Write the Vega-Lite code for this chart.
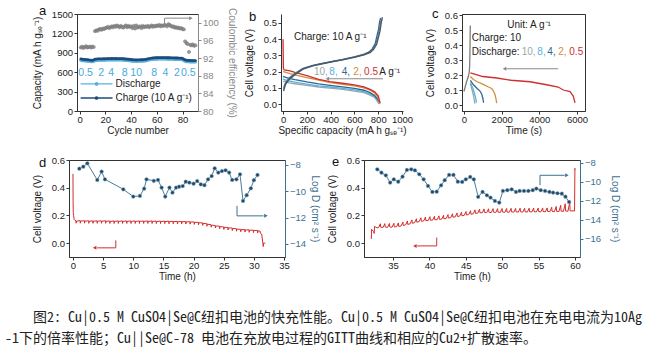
{
"$schema":"https://vega.github.io/schema/vega-lite/v6.json",
"background":"white",
"padding":{"left":5,"top":4,"right":0,"bottom":0},
"config":{"font":"Liberation Sans","view":{"stroke":null},
 "axis":{"labelFont":"Liberation Sans","titleFont":"Liberation Sans","labelFontSize":9.5,"titleFontSize":10,"titleFontWeight":"normal","labelColor":"#222","titleColor":"#222","domainColor":"#333","tickColor":"#333","grid":false,"tickSize":3,"labelFlush":false,"labelOverlap":false,"labelBound":false},
 "axisX":{"labelPadding":0.5,"titlePadding":1.5},
 "axisY":{"labelPadding":1.5,"titlePadding":9},
 "text":{"font":"Liberation Sans","fontSize":10},
 "title":{"font":"Liberation Sans","fontSize":13,"fontWeight":"normal","color":"#111","anchor":"start","frame":"group","offset":0,"baseline":"middle"}},
"datasets":{
"a":[{"n":1,"c":805,"d":783,"e":94.4},{"n":2,"c":800,"d":778,"e":94.6},{"n":3,"c":798,"d":776,"e":94.3},{"n":4,"c":796,"d":774,"e":94.5},{"n":5,"c":795,"d":773,"e":94.7},{"n":6,"c":793,"d":771,"e":94.4},{"n":7,"c":790,"d":768,"e":94.5},{"n":8,"c":788,"d":766,"e":94.6},{"n":9,"c":785,"d":763,"e":94.4},{"n":10,"c":782,"d":760,"e":94.6},
{"n":11,"c":790,"d":768,"e":94.5},{"n":12,"c":800,"d":778,"e":98.1},{"n":13,"c":802,"d":780,"e":98.3},{"n":14,"c":805,"d":783,"e":98.2},{"n":15,"c":806,"d":784,"e":98.5},{"n":16,"c":805,"d":783,"e":98.6},{"n":17,"c":807,"d":785,"e":98.4},{"n":18,"c":806,"d":784,"e":98.7},{"n":19,"c":808,"d":786,"e":98.6},{"n":20,"c":807,"d":785,"e":98.8},
{"n":21,"c":810,"d":788,"e":98.9},{"n":22,"c":809,"d":787,"e":99.1},{"n":23,"c":811,"d":789,"e":98.8},{"n":24,"c":810,"d":788,"e":99.0},{"n":25,"c":812,"d":790,"e":99.2},{"n":26,"c":811,"d":789,"e":99.0},{"n":27,"c":810,"d":788,"e":99.3},{"n":28,"c":812,"d":790,"e":99.1},{"n":29,"c":811,"d":789,"e":99.4},{"n":30,"c":810,"d":788,"e":99.2},
{"n":31,"c":809,"d":787,"e":99.0},{"n":32,"c":811,"d":789,"e":99.3},{"n":33,"c":810,"d":788,"e":99.1},{"n":34,"c":808,"d":786,"e":98.9},{"n":35,"c":806,"d":784,"e":99.2},{"n":36,"c":804,"d":782,"e":99.4},{"n":37,"c":802,"d":780,"e":99.0},{"n":38,"c":800,"d":778,"e":99.3},{"n":39,"c":798,"d":776,"e":99.1},{"n":40,"c":796,"d":774,"e":99.2},
{"n":41,"c":793,"d":771,"e":98.8},{"n":42,"c":791,"d":769,"e":99.3},{"n":43,"c":790,"d":768,"e":98.7},{"n":44,"c":789,"d":767,"e":99.4},{"n":45,"c":790,"d":768,"e":98.9},{"n":46,"c":791,"d":769,"e":99.1},{"n":47,"c":790,"d":768,"e":99.2},{"n":48,"c":792,"d":770,"e":98.8},{"n":49,"c":793,"d":771,"e":99.3},{"n":50,"c":795,"d":773,"e":99.0},
{"n":51,"c":797,"d":775,"e":99.2},{"n":52,"c":800,"d":778,"e":99.1},{"n":53,"c":805,"d":783,"e":99.3},{"n":54,"c":810,"d":788,"e":99.0},{"n":55,"c":815,"d":793,"e":99.2},{"n":56,"c":818,"d":796,"e":99.4},{"n":57,"c":820,"d":798,"e":99.1},{"n":58,"c":822,"d":800,"e":99.3},{"n":59,"c":823,"d":801,"e":99.2},{"n":60,"c":824,"d":802,"e":99.4},
{"n":61,"c":825,"d":803,"e":99.3},{"n":62,"c":825,"d":803,"e":99.5},{"n":63,"c":826,"d":804,"e":99.2},{"n":64,"c":826,"d":804,"e":99.4},{"n":65,"c":825,"d":803,"e":99.3},{"n":66,"c":826,"d":804,"e":99.5},{"n":67,"c":825,"d":803,"e":99.4},{"n":68,"c":824,"d":802,"e":99.2},{"n":69,"c":824,"d":802,"e":99.7},{"n":70,"c":823,"d":801,"e":99.5},
{"n":71,"c":822,"d":800,"e":99.3},{"n":72,"c":822,"d":800,"e":99.1},{"n":73,"c":821,"d":799,"e":99.2},{"n":74,"c":820,"d":798,"e":98.9},{"n":75,"c":820,"d":798,"e":99.0},{"n":76,"c":819,"d":797,"e":98.8},{"n":77,"c":818,"d":796,"e":98.9},{"n":78,"c":817,"d":795,"e":98.7},{"n":79,"c":816,"d":794,"e":98.8},{"n":80,"c":815,"d":793,"e":98.6},
{"n":81,"c":800,"d":778,"e":98.5},{"n":82,"c":790,"d":768,"e":95.8},{"n":83,"c":785,"d":763,"e":95.4},{"n":84,"c":783,"d":761,"e":95.2},{"n":85,"c":782,"d":760,"e":93.4},{"n":86,"c":781,"d":759,"e":95.0},{"n":87,"c":780,"d":758,"e":94.9},{"n":88,"c":780,"d":758,"e":95.1},{"n":89,"c":779,"d":757,"e":94.8},{"n":90,"c":779,"d":757,"e":94.9}],
"b":[
{"s":"10","q":0,"v":0.14},{"s":"10","q":10,"v":0.14},{"s":"10","q":50,"v":0.13},{"s":"10","q":100,"v":0.125},{"s":"10","q":200,"v":0.115},{"s":"10","q":300,"v":0.105},{"s":"10","q":395,"v":0.098},{"s":"10","q":500,"v":0.09},{"s":"10","q":600,"v":0.08},{"s":"10","q":680,"v":0.07},{"s":"10","q":731,"v":0.055},{"s":"10","q":770,"v":0.04},{"s":"10","q":790,"v":0.02},{"s":"10","q":805,"v":0.0},
{"s":"8","q":0,"v":0.155},{"s":"8","q":10,"v":0.15},{"s":"8","q":50,"v":0.142},{"s":"8","q":100,"v":0.135},{"s":"8","q":200,"v":0.123},{"s":"8","q":300,"v":0.112},{"s":"8","q":395,"v":0.105},{"s":"8","q":500,"v":0.097},{"s":"8","q":600,"v":0.087},{"s":"8","q":680,"v":0.077},{"s":"8","q":731,"v":0.062},{"s":"8","q":770,"v":0.045},{"s":"8","q":795,"v":0.025},{"s":"8","q":810,"v":0.005},
{"s":"4","q":0,"v":0.17},{"s":"4","q":10,"v":0.168},{"s":"4","q":50,"v":0.158},{"s":"4","q":100,"v":0.15},{"s":"4","q":200,"v":0.136},{"s":"4","q":300,"v":0.124},{"s":"4","q":395,"v":0.115},{"s":"4","q":500,"v":0.106},{"s":"4","q":600,"v":0.096},{"s":"4","q":680,"v":0.085},{"s":"4","q":731,"v":0.07},{"s":"4","q":770,"v":0.052},{"s":"4","q":795,"v":0.03},{"s":"4","q":815,"v":0.008},
{"s":"2","q":0,"v":0.2},{"s":"2","q":10,"v":0.198},{"s":"2","q":59,"v":0.188},{"s":"2","q":100,"v":0.18},{"s":"2","q":200,"v":0.163},{"s":"2","q":300,"v":0.148},{"s":"2","q":395,"v":0.132},{"s":"2","q":500,"v":0.122},{"s":"2","q":600,"v":0.112},{"s":"2","q":680,"v":0.1},{"s":"2","q":731,"v":0.085},{"s":"2","q":770,"v":0.068},{"s":"2","q":795,"v":0.045},{"s":"2","q":810,"v":0.015},{"s":"2","q":815,"v":0.0},
{"s":"0.5","q":0,"v":0.4},{"s":"0.5","q":3,"v":0.22},{"s":"0.5","q":10,"v":0.21},{"s":"0.5","q":59,"v":0.204},{"s":"0.5","q":100,"v":0.195},{"s":"0.5","q":200,"v":0.175},{"s":"0.5","q":300,"v":0.152},{"s":"0.5","q":395,"v":0.138},{"s":"0.5","q":500,"v":0.128},{"s":"0.5","q":600,"v":0.118},{"s":"0.5","q":680,"v":0.106},{"s":"0.5","q":731,"v":0.09},{"s":"0.5","q":770,"v":0.075},{"s":"0.5","q":800,"v":0.05},{"s":"0.5","q":815,"v":0.008},
{"s":"c3","q":5,"v":0.1},{"s":"c3","q":20,"v":0.13},{"s":"c3","q":50,"v":0.16},{"s":"c3","q":100,"v":0.19},{"s":"c3","q":168,"v":0.22},{"s":"c3","q":250,"v":0.238},{"s":"c3","q":311,"v":0.248},{"s":"c3","q":400,"v":0.261},{"s":"c3","q":500,"v":0.275},{"s":"c3","q":600,"v":0.291},{"s":"c3","q":680,"v":0.307},{"s":"c3","q":725,"v":0.32},{"s":"c3","q":755,"v":0.34},{"s":"c3","q":780,"v":0.37},{"s":"c3","q":798,"v":0.42},{"s":"c3","q":810,"v":0.46},{"s":"c3","q":820,"v":0.5},{"s":"c3","q":828,"v":0.525},
{"s":"c2","q":5,"v":0.09},{"s":"c2","q":20,"v":0.125},{"s":"c2","q":50,"v":0.155},{"s":"c2","q":100,"v":0.185},{"s":"c2","q":168,"v":0.218},{"s":"c2","q":250,"v":0.237},{"s":"c2","q":311,"v":0.247},{"s":"c2","q":400,"v":0.26},{"s":"c2","q":500,"v":0.274},{"s":"c2","q":600,"v":0.29},{"s":"c2","q":680,"v":0.305},{"s":"c2","q":720,"v":0.32},{"s":"c2","q":750,"v":0.34},{"s":"c2","q":775,"v":0.375},{"s":"c2","q":792,"v":0.43},{"s":"c2","q":802,"v":0.46},{"s":"c2","q":812,"v":0.51},{"s":"c2","q":820,"v":0.53},
{"s":"c1","q":5,"v":0.08},{"s":"c1","q":20,"v":0.12},{"s":"c1","q":50,"v":0.15},{"s":"c1","q":100,"v":0.18},{"s":"c1","q":168,"v":0.215},{"s":"c1","q":250,"v":0.235},{"s":"c1","q":311,"v":0.245},{"s":"c1","q":400,"v":0.258},{"s":"c1","q":500,"v":0.272},{"s":"c1","q":600,"v":0.288},{"s":"c1","q":680,"v":0.303},{"s":"c1","q":731,"v":0.317},{"s":"c1","q":760,"v":0.335},{"s":"c1","q":787,"v":0.368},{"s":"c1","q":805,"v":0.42},{"s":"c1","q":815,"v":0.45},{"s":"c1","q":825,"v":0.5},{"s":"c1","q":835,"v":0.535}],
"c":[
{"s":"ch","t":0,"v":0.09},{"s":"ch","t":60,"v":0.12},{"s":"ch","t":150,"v":0.16},{"s":"ch","t":230,"v":0.19},{"s":"ch","t":280,"v":0.22},{"s":"ch","t":300,"v":0.26},{"s":"ch","t":315,"v":0.35},{"s":"ch","t":325,"v":0.45},{"s":"ch","t":335,"v":0.53},
{"s":"10","t":340,"v":0.14},{"s":"10","t":400,"v":0.115},{"s":"10","t":450,"v":0.09},{"s":"10","t":500,"v":0.065},{"s":"10","t":540,"v":0.035},{"s":"10","t":580,"v":0.01},
{"s":"8","t":340,"v":0.15},{"s":"8","t":420,"v":0.125},{"s":"8","t":500,"v":0.1},{"s":"8","t":560,"v":0.075},{"s":"8","t":620,"v":0.045},{"s":"8","t":660,"v":0.015},
{"s":"4","t":340,"v":0.165},{"s":"4","t":500,"v":0.135},{"s":"4","t":700,"v":0.11},{"s":"4","t":850,"v":0.093},{"s":"4","t":950,"v":0.07},{"s":"4","t":1000,"v":0.045},{"s":"4","t":1040,"v":0.015},
{"s":"2","t":340,"v":0.19},{"s":"2","t":500,"v":0.17},{"s":"2","t":700,"v":0.155},{"s":"2","t":1025,"v":0.138},{"s":"2","t":1300,"v":0.12},{"s":"2","t":1470,"v":0.11},{"s":"2","t":1560,"v":0.095},{"s":"2","t":1646,"v":0.07},{"s":"2","t":1700,"v":0.04},{"s":"2","t":1735,"v":0.012},
{"s":"0.5","t":340,"v":0.215},{"s":"0.5","t":1000,"v":0.19},{"s":"0.5","t":1735,"v":0.18},{"s":"0.5","t":2500,"v":0.165},{"s":"0.5","t":3505,"v":0.155},{"s":"0.5","t":4390,"v":0.135},{"s":"0.5","t":5000,"v":0.12},{"s":"0.5","t":5275,"v":0.1},{"s":"0.5","t":5630,"v":0.09},{"s":"0.5","t":5800,"v":0.06},{"s":"0.5","t":5895,"v":0.015}],
"dv":[{"t":0,"v":0.5},{"t":0.02,"v":0.3},{"t":0.05,"v":0.22},{"t":0.1,"v":0.2},{"t":0.2,"v":0.17},{"t":0.35,"v":0.163},
{"t":0.5,"v":0.162},{"t":0.52,"v":0.144},{"t":0.57,"v":0.159},{"t":1.2,"v":0.162},{"t":1.22,"v":0.144},{"t":1.27,"v":0.159},{"t":1.9,"v":0.162},{"t":1.92,"v":0.144},{"t":1.97,"v":0.159},
{"t":2.6,"v":0.161},{"t":2.62,"v":0.143},{"t":2.67,"v":0.158},{"t":3.3,"v":0.161},{"t":3.32,"v":0.143},{"t":3.37,"v":0.158},{"t":4.0,"v":0.161},{"t":4.02,"v":0.143},{"t":4.07,"v":0.158},
{"t":4.7,"v":0.161},{"t":4.72,"v":0.143},{"t":4.77,"v":0.158},{"t":5.4,"v":0.161},{"t":5.42,"v":0.143},{"t":5.47,"v":0.158},{"t":6.1,"v":0.16},{"t":6.12,"v":0.142},{"t":6.17,"v":0.157},
{"t":6.8,"v":0.16},{"t":6.82,"v":0.142},{"t":6.87,"v":0.157},{"t":7.5,"v":0.16},{"t":7.52,"v":0.142},{"t":7.57,"v":0.157},{"t":8.2,"v":0.16},{"t":8.22,"v":0.142},{"t":8.27,"v":0.157},
{"t":8.9,"v":0.16},{"t":8.92,"v":0.142},{"t":8.97,"v":0.157},{"t":9.6,"v":0.16},{"t":9.62,"v":0.142},{"t":9.67,"v":0.157},{"t":10.3,"v":0.16},{"t":10.32,"v":0.142},{"t":10.37,"v":0.157},
{"t":11.0,"v":0.16},{"t":11.02,"v":0.142},{"t":11.07,"v":0.157},{"t":11.7,"v":0.16},{"t":11.72,"v":0.142},{"t":11.77,"v":0.157},{"t":12.4,"v":0.16},{"t":12.42,"v":0.142},{"t":12.47,"v":0.157},
{"t":13.1,"v":0.16},{"t":13.12,"v":0.142},{"t":13.17,"v":0.157},{"t":13.8,"v":0.159},{"t":13.82,"v":0.141},{"t":13.87,"v":0.156},{"t":14.5,"v":0.159},{"t":14.52,"v":0.141},{"t":14.57,"v":0.156},
{"t":15.2,"v":0.159},{"t":15.22,"v":0.141},{"t":15.27,"v":0.156},{"t":15.9,"v":0.158},{"t":15.92,"v":0.14},{"t":15.97,"v":0.155},{"t":16.6,"v":0.158},{"t":16.62,"v":0.14},{"t":16.67,"v":0.155},
{"t":17.3,"v":0.157},{"t":17.32,"v":0.139},{"t":17.37,"v":0.154},{"t":18.0,"v":0.157},{"t":18.02,"v":0.139},{"t":18.07,"v":0.154},{"t":18.7,"v":0.156},{"t":18.72,"v":0.138},{"t":18.77,"v":0.153},
{"t":19.4,"v":0.155},{"t":19.42,"v":0.137},{"t":19.47,"v":0.152},{"t":20.1,"v":0.153},{"t":20.12,"v":0.135},{"t":20.17,"v":0.15},{"t":20.8,"v":0.15},{"t":20.82,"v":0.132},{"t":20.87,"v":0.147},
{"t":21.5,"v":0.146},{"t":21.52,"v":0.128},{"t":21.57,"v":0.143},{"t":22.2,"v":0.14},{"t":22.22,"v":0.122},{"t":22.27,"v":0.137},{"t":22.9,"v":0.133},{"t":22.92,"v":0.115},{"t":22.97,"v":0.13},
{"t":23.6,"v":0.127},{"t":23.62,"v":0.109},{"t":23.67,"v":0.124},{"t":24.3,"v":0.122},{"t":24.32,"v":0.104},{"t":24.37,"v":0.119},{"t":25.0,"v":0.117},{"t":25.02,"v":0.099},{"t":25.07,"v":0.114},
{"t":25.7,"v":0.113},{"t":25.72,"v":0.095},{"t":25.77,"v":0.11},{"t":26.4,"v":0.109},{"t":26.42,"v":0.091},{"t":26.47,"v":0.106},{"t":27.1,"v":0.104},{"t":27.12,"v":0.086},{"t":27.17,"v":0.101},
{"t":27.8,"v":0.1},{"t":27.82,"v":0.082},{"t":27.87,"v":0.097},{"t":28.5,"v":0.098},{"t":28.52,"v":0.08},{"t":28.57,"v":0.095},{"t":29.2,"v":0.096},{"t":29.22,"v":0.078},{"t":29.27,"v":0.093},
{"t":29.9,"v":0.094},{"t":29.92,"v":0.076},{"t":29.97,"v":0.091},{"t":30.6,"v":0.091},{"t":30.62,"v":0.073},{"t":30.67,"v":0.088},
{"t":31.0,"v":0.088},{"t":31.1,"v":0.07},{"t":31.3,"v":0.065},{"t":31.4,"v":0.03},{"t":31.5,"v":-0.005},{"t":31.55,"v":-0.025},{"t":31.6,"v":0.0},{"t":31.9,"v":0.0}],
"dd":[{"t":1.05,"g":-8.28},{"t":1.71,"g":-8.13},{"t":2.38,"g":-7.87},{"t":4.03,"g":-9.14},{"t":4.75,"g":-8.5},{"t":5.3,"g":-9.09},{"t":8.34,"g":-9.85},{"t":10.0,"g":-10.4},{"t":11.1,"g":-10.35},{"t":11.8,"g":-9.8},{"t":12.2,"g":-9.09},{"t":13.4,"g":-9.2},{"t":14.1,"g":-9.14},{"t":14.7,"g":-9.72},{"t":15.3,"g":-10.4},{"t":16.0,"g":-9.72},{"t":16.5,"g":-10.1},{"t":17.1,"g":-9.72},{"t":17.6,"g":-9.65},{"t":18.2,"g":-9.6},{"t":18.7,"g":-9.27},{"t":19.3,"g":-9.34},{"t":20.0,"g":-9.42},{"t":20.6,"g":-9.22},{"t":21.2,"g":-9.47},{"t":21.8,"g":-9.54},{"t":22.4,"g":-9.09},{"t":23.0,"g":-8.84},{"t":23.5,"g":-8.25},{"t":24.1,"g":-8.58},{"t":24.7,"g":-8.46},{"t":25.3,"g":-8.4},{"t":25.9,"g":-8.58},{"t":26.4,"g":-9.14},{"t":27.1,"g":-9.09},{"t":27.7,"g":-8.71},{"t":28.2,"g":-10.73},{"t":28.8,"g":-10.3},{"t":29.5,"g":-9.77},{"t":30.0,"g":-9.16},{"t":30.6,"g":-8.76}],
"ev":[{"t":32.0,"v":0.03},{"t":32.05,"v":0.1},{"t":32.3,"v":0.085},{"t":32.4,"v":0.07},{"t":32.45,"v":0.12},{"t":32.8,"v":0.11},
{"t":33.0,"v":0.112},{"t":33.25,"v":0.14},{"t":33.3,"v":0.115},{"t":33.62,"v":0.113},{"t":33.87,"v":0.141},{"t":33.92,"v":0.116},{"t":34.24,"v":0.114},{"t":34.49,"v":0.142},{"t":34.54,"v":0.117},
{"t":34.86,"v":0.115},{"t":35.11,"v":0.143},{"t":35.16,"v":0.118},{"t":35.48,"v":0.118},{"t":35.73,"v":0.146},{"t":35.78,"v":0.121},{"t":36.1,"v":0.124},{"t":36.35,"v":0.152},{"t":36.4,"v":0.127},
{"t":36.72,"v":0.132},{"t":36.97,"v":0.16},{"t":37.02,"v":0.135},{"t":37.34,"v":0.14},{"t":37.59,"v":0.168},{"t":37.64,"v":0.143},{"t":37.96,"v":0.148},{"t":38.21,"v":0.176},{"t":38.26,"v":0.151},
{"t":38.58,"v":0.155},{"t":38.83,"v":0.183},{"t":38.88,"v":0.158},{"t":39.2,"v":0.16},{"t":39.45,"v":0.188},{"t":39.5,"v":0.163},{"t":39.82,"v":0.163},{"t":40.07,"v":0.191},{"t":40.12,"v":0.166},
{"t":40.44,"v":0.166},{"t":40.69,"v":0.194},{"t":40.74,"v":0.169},{"t":41.06,"v":0.169},{"t":41.31,"v":0.197},{"t":41.36,"v":0.172},{"t":41.68,"v":0.173},{"t":41.93,"v":0.201},{"t":41.98,"v":0.176},
{"t":42.3,"v":0.178},{"t":42.55,"v":0.206},{"t":42.6,"v":0.181},{"t":42.92,"v":0.184},{"t":43.17,"v":0.212},{"t":43.22,"v":0.187},{"t":43.54,"v":0.19},{"t":43.79,"v":0.218},{"t":43.84,"v":0.193},
{"t":44.16,"v":0.195},{"t":44.41,"v":0.223},{"t":44.46,"v":0.198},{"t":44.78,"v":0.2},{"t":45.03,"v":0.228},{"t":45.08,"v":0.203},{"t":45.4,"v":0.206},{"t":45.65,"v":0.234},{"t":45.7,"v":0.209},
{"t":46.02,"v":0.212},{"t":46.27,"v":0.24},{"t":46.32,"v":0.215},{"t":46.64,"v":0.217},{"t":46.89,"v":0.245},{"t":46.94,"v":0.22},{"t":47.26,"v":0.219},{"t":47.51,"v":0.247},{"t":47.56,"v":0.222},
{"t":47.88,"v":0.22},{"t":48.13,"v":0.248},{"t":48.18,"v":0.223},{"t":48.5,"v":0.221},{"t":48.75,"v":0.249},{"t":48.8,"v":0.224},{"t":49.12,"v":0.221},{"t":49.37,"v":0.249},{"t":49.42,"v":0.224},
{"t":49.74,"v":0.222},{"t":49.99,"v":0.25},{"t":50.04,"v":0.225},{"t":50.36,"v":0.222},{"t":50.61,"v":0.25},{"t":50.66,"v":0.225},{"t":50.98,"v":0.223},{"t":51.23,"v":0.251},{"t":51.28,"v":0.226},
{"t":51.6,"v":0.223},{"t":51.85,"v":0.251},{"t":51.9,"v":0.226},{"t":52.22,"v":0.224},{"t":52.47,"v":0.252},{"t":52.52,"v":0.227},{"t":52.84,"v":0.224},{"t":53.09,"v":0.252},{"t":53.14,"v":0.227},
{"t":53.46,"v":0.224},{"t":53.71,"v":0.252},{"t":53.76,"v":0.227},{"t":54.08,"v":0.225},{"t":54.33,"v":0.253},{"t":54.38,"v":0.228},{"t":54.7,"v":0.225},{"t":54.95,"v":0.253},{"t":55.0,"v":0.228},
{"t":55.32,"v":0.226},{"t":55.57,"v":0.254},{"t":55.62,"v":0.229},{"t":55.94,"v":0.226},{"t":56.19,"v":0.254},{"t":56.24,"v":0.229},{"t":56.56,"v":0.227},{"t":56.81,"v":0.259},{"t":56.86,"v":0.23},
{"t":57.18,"v":0.227},{"t":57.43,"v":0.265},{"t":57.48,"v":0.23},{"t":57.8,"v":0.228},{"t":58.05,"v":0.273},{"t":58.1,"v":0.231},{"t":58.42,"v":0.229},{"t":58.67,"v":0.284},{"t":58.72,"v":0.232},
{"t":59.04,"v":0.23},{"t":59.29,"v":0.295},{"t":59.34,"v":0.233},{"t":59.95,"v":0.232},{"t":60.0,"v":0.54},{"t":60.02,"v":0.53}],
"ed":[{"t":32.83,"g":-8.7},{"t":33.4,"g":-9.05},{"t":34.0,"g":-9.33},{"t":34.6,"g":-10.1},{"t":35.1,"g":-9.75},{"t":35.7,"g":-10.0},{"t":36.3,"g":-9.47},{"t":36.9,"g":-8.77},{"t":37.5,"g":-8.7},{"t":38.0,"g":-8.8},{"t":38.6,"g":-9.22},{"t":39.2,"g":-9.75},{"t":39.8,"g":-10.45},{"t":40.4,"g":-11.08},{"t":41.0,"g":-11.05},{"t":41.6,"g":-10.38},{"t":42.1,"g":-9.85},{"t":42.7,"g":-9.29},{"t":43.3,"g":-9.29},{"t":43.9,"g":-10.0},{"t":44.5,"g":-10.03},{"t":45.0,"g":-9.75},{"t":45.6,"g":-9.5},{"t":46.1,"g":-9.75},{"t":46.7,"g":-11.6},{"t":47.3,"g":-11.08},{"t":47.9,"g":-11.43},{"t":48.4,"g":-11.68},{"t":49.0,"g":-12.03},{"t":49.6,"g":-12.2},{"t":50.1,"g":-10.98},{"t":50.7,"g":-10.9},{"t":51.3,"g":-10.8},{"t":51.9,"g":-11.08},{"t":52.4,"g":-10.98},{"t":53.0,"g":-10.98},{"t":53.6,"g":-10.98},{"t":54.2,"g":-10.9},{"t":54.7,"g":-10.73},{"t":55.3,"g":-10.9},{"t":55.9,"g":-10.98},{"t":56.5,"g":-11.08},{"t":57.0,"g":-11.15},{"t":57.6,"g":-11.22},{"t":58.2,"g":-11.26},{"t":58.7,"g":-11.58},{"t":59.2,"g":-12.14}]
},
"spacing":146,
"bounds":"flush",
"resolve":{"scale":{"color":"independent"}},
"vconcat":[
 {"spacing":0,"bounds":"flush","resolve":{"scale":{"color":"independent"}},"hconcat":[
 {"width":72,"height":97,"data":{"values":[]},"mark":"point"},
 {"width":121,"height":97,"view":{"stroke":"#333","strokeWidth":1},
  "title":{"text":"a","dx":-38,"dy":14.7},
  "resolve":{"scale":{"y":"independent"}},
  "layer":[
   {"layer":[
    {"data":{"name":"a"},"mark":{"type":"line","color":"#56b1df","strokeWidth":1.4,"point":{"filled":true,"size":9,"color":"#56b1df"}},
     "encoding":{"x":{"field":"n","type":"quantitative","scale":{"domain":[-2,92],"nice":false,"zero":false},"axis":{"values":[0,20,40,60,80],"tickCount":20,"format":"d","title":"Cycle number"}},
      "y":{"field":"d","type":"quantitative","scale":{"domain":[0,1500],"nice":false},"axis":{"values":[0,300,600,900,1200,1500],"tickCount":20,"format":"d","title":"Capacity (mA h gₛₑ⁻¹)"}}}},
    {"data":{"name":"a"},"mark":{"type":"line","color":"#1d4c7c","strokeWidth":1.2,"point":{"filled":true,"size":8,"color":"#1d4c7c"}},
     "encoding":{"x":{"field":"n","type":"quantitative"},"y":{"field":"c","type":"quantitative"}}},
    {"data":{"values":[{"s":"dis","n":0.8,"y":418},{"s":"dis","n":25.6,"y":418},{"s":"chg","n":0.8,"y":201},{"s":"chg","n":25.6,"y":201}]},
     "mark":{"type":"line","strokeWidth":1.3},
     "encoding":{"x":{"field":"n","type":"quantitative"},"y":{"field":"y","type":"quantitative"},"color":{"field":"s","type":"nominal","scale":{"domain":["dis","chg"],"range":["#56b1df","#1d4c7c"]},"legend":null}}},
    {"data":{"values":[{"s":"dis","n":13.2,"y":418},{"s":"chg","n":13.2,"y":201}]},
     "mark":{"type":"point","filled":true,"size":14,"opacity":1},
     "encoding":{"x":{"field":"n","type":"quantitative"},"y":{"field":"y","type":"quantitative"},"color":{"field":"s","type":"nominal","legend":null}}},
    {"data":{"values":[{"n":27.9,"y":418,"t":"Discharge"},{"n":27.9,"y":201,"t":"Charge (10 A g⁻¹)"}]},
     "mark":{"type":"text","align":"left","baseline":"middle","fontSize":10,"color":"#222"},
     "encoding":{"x":{"field":"n","type":"quantitative"},"y":{"field":"y","type":"quantitative"},"text":{"field":"t"}}},
    {"data":{"values":[{"n":4.7,"y":588,"t":"0.5"},{"n":16.8,"y":588,"t":"2"},{"n":24.6,"y":588,"t":"4"},{"n":35,"y":588,"t":"8"},{"n":44,"y":588,"t":"10"},{"n":58,"y":588,"t":"8"},{"n":66.7,"y":588,"t":"4"},{"n":75.7,"y":588,"t":"2"},{"n":84.5,"y":588,"t":"0.5"}]},
     "mark":{"type":"text","align":"center","baseline":"middle","fontSize":10.5,"color":"#4aa9db"},
     "encoding":{"x":{"field":"n","type":"quantitative"},"y":{"field":"y","type":"quantitative"},"text":{"field":"t"}}}
   ]},
   {"layer":[
    {"data":{"name":"a"},"mark":{"type":"point","filled":true,"size":11,"color":"#8e8e8e","stroke":"#666","strokeWidth":0.4,"opacity":0.9},
     "encoding":{"x":{"field":"n","type":"quantitative"},"y":{"field":"e","type":"quantitative","scale":{"domain":[80,102],"nice":false,"zero":false},"axis":{"orient":"right","values":[80,84,88,92,96,100],"tickCount":20,"format":"d","title":"Coulombic efficiency (%)","domainColor":"#888","tickColor":"#888","labelColor":"#888","titleColor":"#888","titlePadding":8}}}},
    {"data":{"values":[{"i":1,"n":66,"e":99.25},{"i":2,"n":66,"e":101.06},{"i":3,"n":85.5,"e":101.06}]},
     "mark":{"type":"line","color":"#888","strokeWidth":1},
     "encoding":{"x":{"field":"n","type":"quantitative"},"y":{"field":"e","type":"quantitative"},"order":{"field":"i"}}},
    {"data":{"values":[{"n":86.5,"e":101.06}]},"mark":{"type":"point","shape":"triangle-right","filled":true,"size":16,"color":"#888","opacity":1},
     "encoding":{"x":{"field":"n","type":"quantitative"},"y":{"field":"e","type":"quantitative"}}}
   ]}
  ]},
 {"width":83,"height":97,"data":{"values":[]},"mark":"point"},
 {"width":122,"height":97,
  "title":{"text":"b","dx":-32,"dy":14},
  "layer":[
   {"data":{"name":"b"},"mark":{"type":"line","strokeWidth":1.3},
    "encoding":{"x":{"field":"q","type":"quantitative","scale":{"domain":[-17,1008],"nice":false,"zero":false},"axis":{"values":[0,200,400,600,800,1000],"tickCount":20,"format":"d","title":"Specific capacity (mA h gₛₑ⁻¹)"}},
     "y":{"field":"v","type":"quantitative","scale":{"domain":[-0.043,0.555],"nice":false,"zero":false},"axis":{"values":[0,0.1,0.2,0.3,0.4,0.5],"tickCount":20,"format":".1f","title":"Cell voltage (V)"}},
     "color":{"field":"s","type":"nominal","scale":{"domain":["10","8","4","2","0.5","c1","c2","c3","k"],"range":["#9aa6ac","#55b3df","#2f6794","#d0903b","#cf2f2e","#4a5866","#3b6a8f","#70828f","#222222"]},"legend":null}}},
   {"data":{"values":[{"q":840,"v":0.156},{"q":378,"v":0.156}]},"mark":{"type":"line","color":"#8a8a8a","strokeWidth":1.1},
    "encoding":{"x":{"field":"q","type":"quantitative"},"y":{"field":"v","type":"quantitative"}}},
   {"data":{"values":[{"q":372,"v":0.156}]},"mark":{"type":"point","shape":"triangle-left","filled":true,"size":16,"color":"#8a8a8a","opacity":1},
    "encoding":{"x":{"field":"q","type":"quantitative"},"y":{"field":"v","type":"quantitative"}}},
   {"data":{"values":[{"s":"k","q":92,"v":0.414,"t":"Charge: 10 A g⁻¹"},{"s":"10","q":260,"v":0.198,"t":"10,"},{"s":"8","q":389,"v":0.198,"t":"8,"},{"s":"4","q":493,"v":0.198,"t":"4,"},{"s":"2","q":591,"v":0.198,"t":"2,"},{"s":"0.5","q":681,"v":0.198,"t":"0.5"},{"s":"k","q":809,"v":0.198,"t":"A g⁻¹"}]},
    "mark":{"type":"text","align":"left","baseline":"middle","fontSize":10},
    "encoding":{"x":{"field":"q","type":"quantitative"},"y":{"field":"v","type":"quantitative"},"text":{"field":"t"},"color":{"field":"s","type":"nominal","legend":null}}}
  ]},
 {"width":59,"height":97,"data":{"values":[]},"mark":"point"},
 {"width":123,"height":97,"view":{"stroke":"#333","strokeWidth":1},
  "title":{"text":"c","dx":-30,"dy":15.4},
  "layer":[
   {"data":{"name":"c"},"mark":{"type":"line","strokeWidth":1.3},
    "encoding":{"x":{"field":"t","type":"quantitative","scale":{"domain":[-106,6425],"nice":false,"zero":false},"axis":{"values":[0,2000,4000,6000],"tickCount":20,"format":"d","title":"Time (s)"}},
     "y":{"field":"v","type":"quantitative","scale":{"domain":[-0.04,0.607],"nice":false,"zero":false},"axis":{"values":[0,0.1,0.2,0.3,0.4,0.5,0.6],"tickCount":20,"format":".1f","title":"Cell voltage (V)"}},
     "color":{"field":"s","type":"nominal","scale":{"domain":["10","8","4","2","0.5","ch","k"],"range":["#9aa6ac","#55b3df","#2f6794","#d0903b","#cf2f2e","#7d7d7d","#222222"]},"legend":null}}},
   {"data":{"values":[{"t":5000,"v":0.242},{"t":2230,"v":0.242}]},"mark":{"type":"line","color":"#8a8a8a","strokeWidth":1.1},
    "encoding":{"x":{"field":"t","type":"quantitative"},"y":{"field":"v","type":"quantitative"}}},
   {"data":{"values":[{"t":2150,"v":0.242}]},"mark":{"type":"point","shape":"triangle-left","filled":true,"size":16,"color":"#8a8a8a","opacity":1},
    "encoding":{"x":{"field":"t","type":"quantitative"},"y":{"field":"v","type":"quantitative"}}},
   {"data":{"values":[{"s":"k","t":2300,"v":0.533,"x":"Unit: A g⁻¹"},{"s":"k","t":409,"v":0.445,"x":"Charge: 10"},{"s":"k","t":409,"v":0.355,"x":"Discharge:"},{"s":"10","t":3064,"v":0.355,"x":"10,"},{"s":"8","t":3893,"v":0.355,"x":"8,"},{"s":"4","t":4424,"v":0.355,"x":"4,"},{"s":"2","t":5008,"v":0.355,"x":"2,"},{"s":"0.5","t":5592,"v":0.355,"x":"0.5"}]},
    "mark":{"type":"text","align":"left","baseline":"middle","fontSize":10},
    "encoding":{"x":{"field":"t","type":"quantitative"},"y":{"field":"v","type":"quantitative"},"text":{"field":"x"},"color":{"field":"s","type":"nominal","legend":null}}}
  ]}
 ]},
 {"spacing":0,"bounds":"flush","resolve":{"scale":{"color":"independent"}},"hconcat":[
 {"width":64,"height":97,"data":{"values":[]},"mark":"point"},
 {"width":216,"height":97,"view":{"stroke":"#333","strokeWidth":1},
  "title":{"text":"d","dx":-30,"dy":19},
  "resolve":{"scale":{"y":"independent"}},
  "layer":[
   {"layer":[
    {"data":{"name":"dv"},"mark":{"type":"line","color":"#d42d2d","strokeWidth":1},
     "encoding":{"x":{"field":"t","type":"quantitative","scale":{"domain":[-0.66,35.16],"nice":false,"zero":false},"axis":{"values":[0,5,10,15,20,25,30,35],"tickCount":20,"format":"d","title":"Time (h)"}},
      "y":{"field":"v","type":"quantitative","scale":{"domain":[-0.1,0.6],"nice":false,"zero":false},"axis":{"values":[0,0.2,0.4,0.6],"tickCount":20,"format":".1f","title":"Cell voltage (V)"}}}},
    {"data":{"values":[{"i":1,"t":7.1,"v":0.02},{"i":2,"t":7.1,"v":-0.034},{"i":3,"t":4.0,"v":-0.034}]},"mark":{"type":"line","color":"#d42d2d","strokeWidth":1},
     "encoding":{"x":{"field":"t","type":"quantitative"},"y":{"field":"v","type":"quantitative"},"order":{"field":"i"}}},
    {"data":{"values":[{"t":3.6,"v":-0.034}]},"mark":{"type":"point","shape":"triangle-left","filled":true,"size":16,"color":"#d42d2d","opacity":1},
     "encoding":{"x":{"field":"t","type":"quantitative"},"y":{"field":"v","type":"quantitative"}}}
   ]},
   {"layer":[
    {"data":{"name":"dd"},"mark":{"type":"line","color":"#4a7d9a","strokeWidth":1,"point":{"filled":true,"size":14,"color":"#234865","stroke":"#9cc0d6","strokeWidth":0.5}},
     "encoding":{"x":{"field":"t","type":"quantitative"},"y":{"field":"g","type":"quantitative","scale":{"domain":[-15,-7.62],"nice":false,"zero":false},"axis":{"orient":"right","values":[-8,-10,-12,-14],"tickCount":20,"format":"d","title":"Log D (cm² s⁻¹)","titlePadding":4,"domainColor":"#3c7192","tickColor":"#3c7192","labelColor":"#3c7192","titleColor":"#3c7192"}}}},
    {"data":{"values":[{"i":1,"t":27.2,"g":-11.11},{"i":2,"t":27.2,"g":-11.87},{"i":3,"t":31.6,"g":-11.87}]},"mark":{"type":"line","color":"#3c7192","strokeWidth":1},
     "encoding":{"x":{"field":"t","type":"quantitative"},"y":{"field":"g","type":"quantitative"},"order":{"field":"i"}}},
    {"data":{"values":[{"t":32.0,"g":-11.87}]},"mark":{"type":"point","shape":"triangle-right","filled":true,"size":16,"color":"#3c7192","opacity":1},
     "encoding":{"x":{"field":"t","type":"quantitative"},"y":{"field":"g","type":"quantitative"}}}
   ]}
  ]},
 {"width":79,"height":97,"data":{"values":[]},"mark":"point"},
 {"width":216,"height":97,"view":{"stroke":"#333","strokeWidth":1},
  "title":{"text":"e","dx":-32,"dy":18},
  "resolve":{"scale":{"y":"independent"}},
  "layer":[
   {"layer":[
    {"data":{"name":"ev"},"mark":{"type":"line","color":"#d42d2d","strokeWidth":1},
     "encoding":{"x":{"field":"t","type":"quantitative","scale":{"domain":[31,60.7],"nice":false,"zero":false},"axis":{"values":[35,40,45,50,55,60],"tickCount":20,"format":"d","title":"Time (h)"}},
      "y":{"field":"v","type":"quantitative","scale":{"domain":[-0.1,0.6],"nice":false,"zero":false},"axis":{"values":[0,0.2,0.4,0.6],"tickCount":20,"format":".1f","title":"Cell voltage (V)"}}}},
    {"data":{"values":[{"i":1,"t":41.0,"v":0.04},{"i":2,"t":41.0,"v":-0.02},{"i":3,"t":38.3,"v":-0.02}]},"mark":{"type":"line","color":"#d42d2d","strokeWidth":1},
     "encoding":{"x":{"field":"t","type":"quantitative"},"y":{"field":"v","type":"quantitative"},"order":{"field":"i"}}},
    {"data":{"values":[{"t":38.0,"v":-0.02}]},"mark":{"type":"point","shape":"triangle-left","filled":true,"size":16,"color":"#d42d2d","opacity":1},
     "encoding":{"x":{"field":"t","type":"quantitative"},"y":{"field":"v","type":"quantitative"}}}
   ]},
   {"layer":[
    {"data":{"name":"ed"},"mark":{"type":"line","color":"#4a7d9a","strokeWidth":1,"point":{"filled":true,"size":14,"color":"#234865","stroke":"#9cc0d6","strokeWidth":0.5}},
     "encoding":{"x":{"field":"t","type":"quantitative"},"y":{"field":"g","type":"quantitative","scale":{"domain":[-17.93,-7.72],"nice":false,"zero":false},"axis":{"orient":"right","values":[-8,-10,-12,-14,-16,-18],"tickCount":20,"format":"d","title":"Log D (cm² s⁻¹)","titlePadding":9,"domainColor":"#3c7192","tickColor":"#3c7192","labelColor":"#3c7192","titleColor":"#3c7192"}}}},
    {"data":{"values":[{"i":1,"t":55.2,"g":-10.38},{"i":2,"t":55.2,"g":-9.33},{"i":3,"t":58.6,"g":-9.33}]},"mark":{"type":"line","color":"#3c7192","strokeWidth":1},
     "encoding":{"x":{"field":"t","type":"quantitative"},"y":{"field":"g","type":"quantitative"},"order":{"field":"i"}}},
    {"data":{"values":[{"t":58.9,"g":-9.33}]},"mark":{"type":"point","shape":"triangle-right","filled":true,"size":16,"color":"#3c7192","opacity":1},
     "encoding":{"x":{"field":"t","type":"quantitative"},"y":{"field":"g","type":"quantitative"}}}
   ]}
  ]}
 ]},
 {"width":640,"height":33.3,
  "layer":[
   {"data":{"values":[{"line":1,"text":"图2: Cu|0.5 M CuSO4|Se@C纽扣电池的快充性能。Cu|0.5 M CuSO4|Se@C纽扣电池在充电电流为10Ag"}]},
    "mark":{"type":"text","align":"left","baseline":"middle","dx":28,"font":"'Noto Sans Mono CJK SC', 'Noto Sans CJK SC', monospace","fontSize":14,"color":"#222"},
    "encoding":{"x":{"datum":0,"type":"quantitative","scale":{"domain":[0,1]},"axis":null},"y":{"field":"line","type":"quantitative","scale":{"domain":[2,0.458],"nice":false,"zero":false},"axis":null},"text":{"field":"text"}}},
   {"data":{"values":[{"line":2,"text":"-1下的倍率性能；Cu||Se@C-78 电池在充放电过程的GITT曲线和相应的Cu2+扩散速率。"}]},
    "mark":{"type":"text","align":"left","baseline":"middle","font":"'Noto Sans Mono CJK SC', 'Noto Sans CJK SC', monospace","fontSize":14,"color":"#222"},
    "encoding":{"x":{"datum":0,"type":"quantitative"},"y":{"field":"line","type":"quantitative"},"text":{"field":"text"}}}
  ]}
]
}
